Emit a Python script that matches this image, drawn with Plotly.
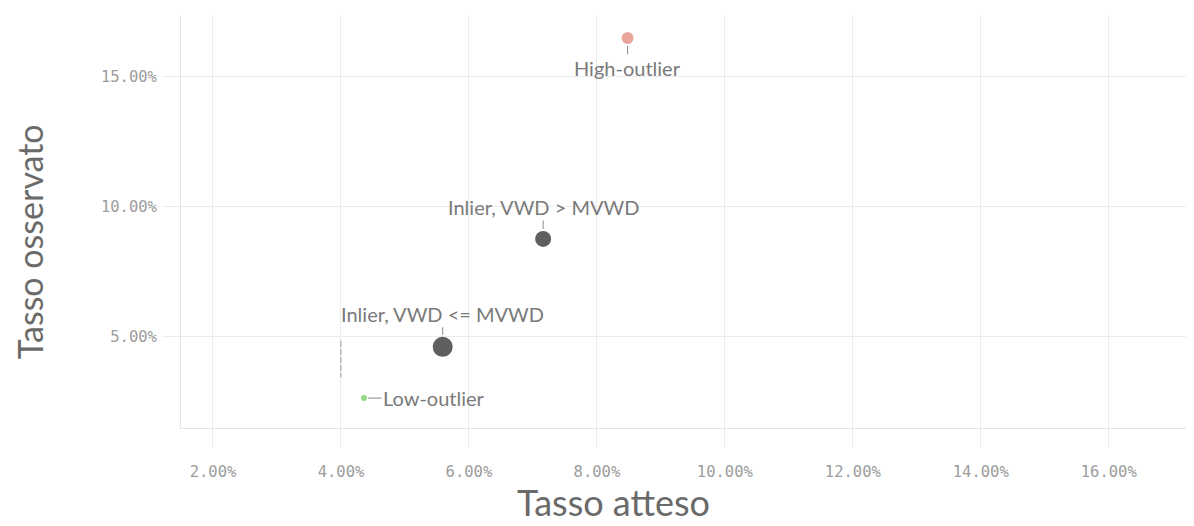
import plotly.graph_objects as go

labels = ["High-outlier", "Inlier, VWD > MVWD", "Inlier, VWD <= MVWD", "Low-outlier"]
expected = [0.0848, 0.0716, 0.0559, 0.0436]
observed = [0.165, 0.0877, 0.0462, 0.0265]
colors = ["#eaa59b", "#5f5f5f", "#5f5f5f", "#93d884"]
sizes = [12, 16, 20, 6]
label_ax = [0, 0, 0, 70]
label_ay = [30, -32, -33, 0]
label_standoff = [8, 10, 12, 4]

ref_x = [0.04, 0.04]
ref_y = [0.0485, 0.0345]

x_ticks = [0.02, 0.04, 0.06, 0.08, 0.10, 0.12, 0.14, 0.16]
y_ticks = [0.05, 0.10, 0.15]

x_title = "Tasso atteso"
y_title = "Tasso osservato"

fig = go.Figure()
fig.add_trace(go.Scatter(
    x=ref_x, y=ref_y, mode="lines",
    line=dict(color="#999999", width=1, dash="6px,2px"),
    hoverinfo="skip", showlegend=False))
fig.add_trace(go.Scatter(
    x=expected, y=observed, mode="markers",
    marker=dict(color=colors, size=sizes, opacity=1, line=dict(width=0)),
    text=labels, showlegend=False))

for lab, xv, yv, ax, ay, so in zip(labels, expected, observed, label_ax, label_ay, label_standoff):
    fig.add_annotation(
        x=xv, y=yv, text=lab, showarrow=True, arrowhead=0, arrowwidth=1,
        arrowcolor="#888888", ax=ax, ay=ay, standoff=so,
        font=dict(family="Lato, Open Sans, sans-serif", size=20, color="#7a7a7a"))

fig.add_annotation(
    x=0.429, y=-0.2373, xref="paper", yref="paper", text=x_title, showarrow=False,
    xanchor="center", yanchor="bottom",
    font=dict(family="Lato, sans-serif", size=36, color="#6a6a6a"))
fig.add_annotation(
    x=-0.1506, y=0.45, xref="paper", yref="paper", text=y_title, showarrow=False,
    xanchor="center", yanchor="middle", textangle=-90,
    font=dict(family="Lato, sans-serif", size=34, color="#6a6a6a"))

tick_font = dict(family="DejaVu Sans Mono, monospace", size=15.5, color="#9c9c9c")
fig.update_layout(
    width=1186, height=518,
    paper_bgcolor="white", plot_bgcolor="white",
    margin=dict(l=173, r=4, t=7, b=98),
    xaxis=dict(
        range=[0.015, 0.1727], tickvals=x_ticks, tickformat=".2%",
        showgrid=True, gridcolor="#ececec", gridwidth=1,
        ticks="outside", ticklen=18, tickcolor="#ececec",
        ticklabelstandoff=11,
        showline=True, linecolor="#e4e4e4", zeroline=False,
        tickfont=tick_font),
    yaxis=dict(
        range=[0.015, 0.1738], tickvals=y_ticks, tickformat=".2%",
        showgrid=True, gridcolor="#ececec", gridwidth=1,
        ticks="outside", ticklen=18, tickcolor="#ececec",
        ticklabelstandoff=2,
        showline=True, linecolor="#e4e4e4", zeroline=False,
        tickfont=tick_font),
)

fig.write_html("out.html")
